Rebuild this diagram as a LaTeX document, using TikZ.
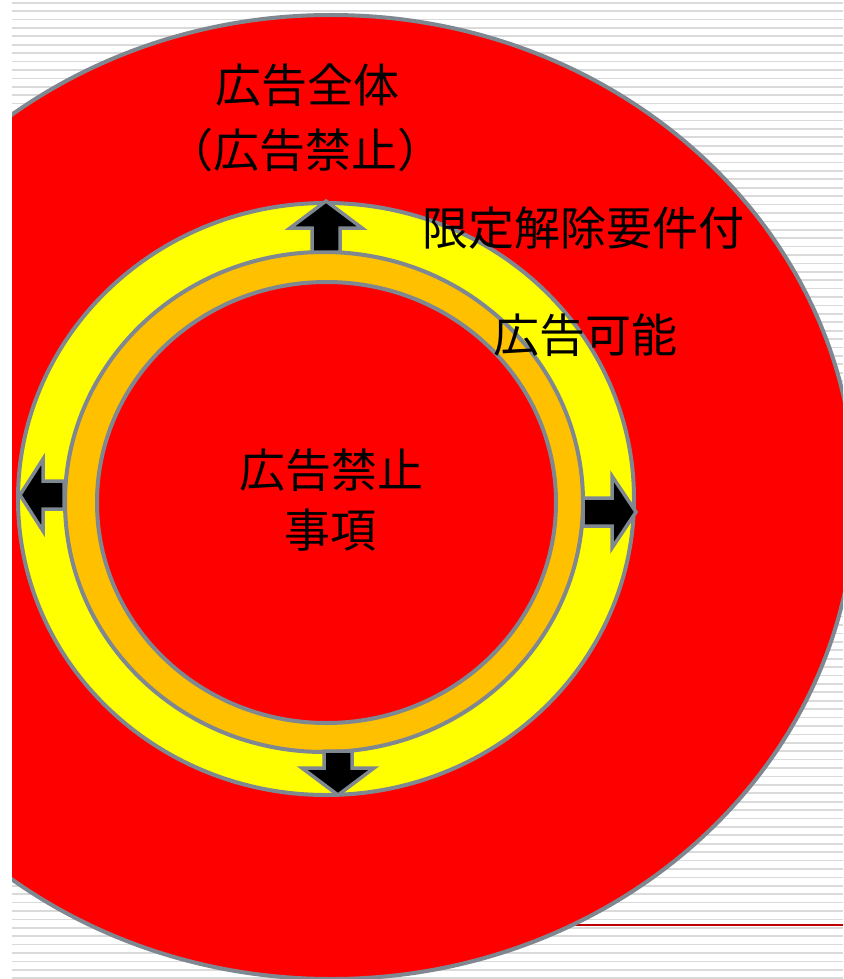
\documentclass[tikz,border=0pt]{standalone}
\usepackage{fontspec}
\newfontfamily\jpfont{Noto Sans CJK JP}
\definecolor{rimgray}{HTML}{7F8790}
\definecolor{stripegray}{HTML}{DADADA}
\definecolor{ringyellow}{HTML}{FFFF00}
\definecolor{ringorange}{HTML}{FFC000}
\definecolor{linered}{HTML}{C00000}
\tikzset{
  ring/.style={draw=rimgray, line width=4pt},
  blockarrow/.style={fill=black, draw=rimgray, line width=3.5pt, line join=miter},
  label/.style={font=\jpfont\fontsize{46}{52}\selectfont, text=black, inner sep=0pt, anchor=center},
  stripe/.style={stripegray, line width=1.7pt}
}
\begin{document}
\begin{tikzpicture}[x=1pt,y=-1pt]
\useasboundingbox (0,0) rectangle (843,979);
\fill[white] (0,0) rectangle (843,979);
\begin{scope}
\clip (12,0) rectangle (843,979);
% background stripes
\foreach \k in {0,...,116} {
  \draw[stripe] (12,{2.7+8.41*\k}) -- (843,{2.7+8.41*\k});
}
\draw[linered, line width=1.2pt] (400,925) -- (843,925);
% outer red
\draw[ring, fill=red] (331,497) ellipse [x radius=524pt, y radius=482pt];
\end{scope}
% yellow ring
\draw[ring, fill=ringyellow] (326,499) ellipse [x radius=308pt, y radius=296pt];
% orange ring
\draw[ring, fill=ringorange] (324,502) ellipse [x radius=259pt, y radius=250pt];
% inner red
\draw[ring, fill=red] (326.5,502.5) ellipse [x radius=229.5pt, y radius=220.5pt];
% arrows
\draw[blockarrow] (326,201) -- (362,228) -- (340,228) -- (340,252) -- (312,252) -- (312,228) -- (290,228) -- cycle;
\draw[blockarrow] (338,795) -- (374,768) -- (352,768) -- (352,751) -- (324,751) -- (324,768) -- (302,768) -- cycle;
\draw[blockarrow] (20,495) -- (43,459) -- (43,481) -- (64,481) -- (64,509) -- (43,509) -- (43,531) -- cycle;
\draw[blockarrow] (636,512) -- (612,476) -- (612,498) -- (583,498) -- (583,526) -- (612,526) -- (612,548) -- cycle;
% texts
\node[label] (whole) at (307,85) {広告全体};
\node[label] (wholeban) at (305,150) {（広告禁止）};
\node[label] (limited) at (583,228) {限定解除要件付};
\node[label] (allowed) at (585,335) {広告可能};
\node[label] (banA) at (331,470) {広告禁止};
\node[label] (banB) at (330,530) {事項};
\end{tikzpicture}
\end{document}
